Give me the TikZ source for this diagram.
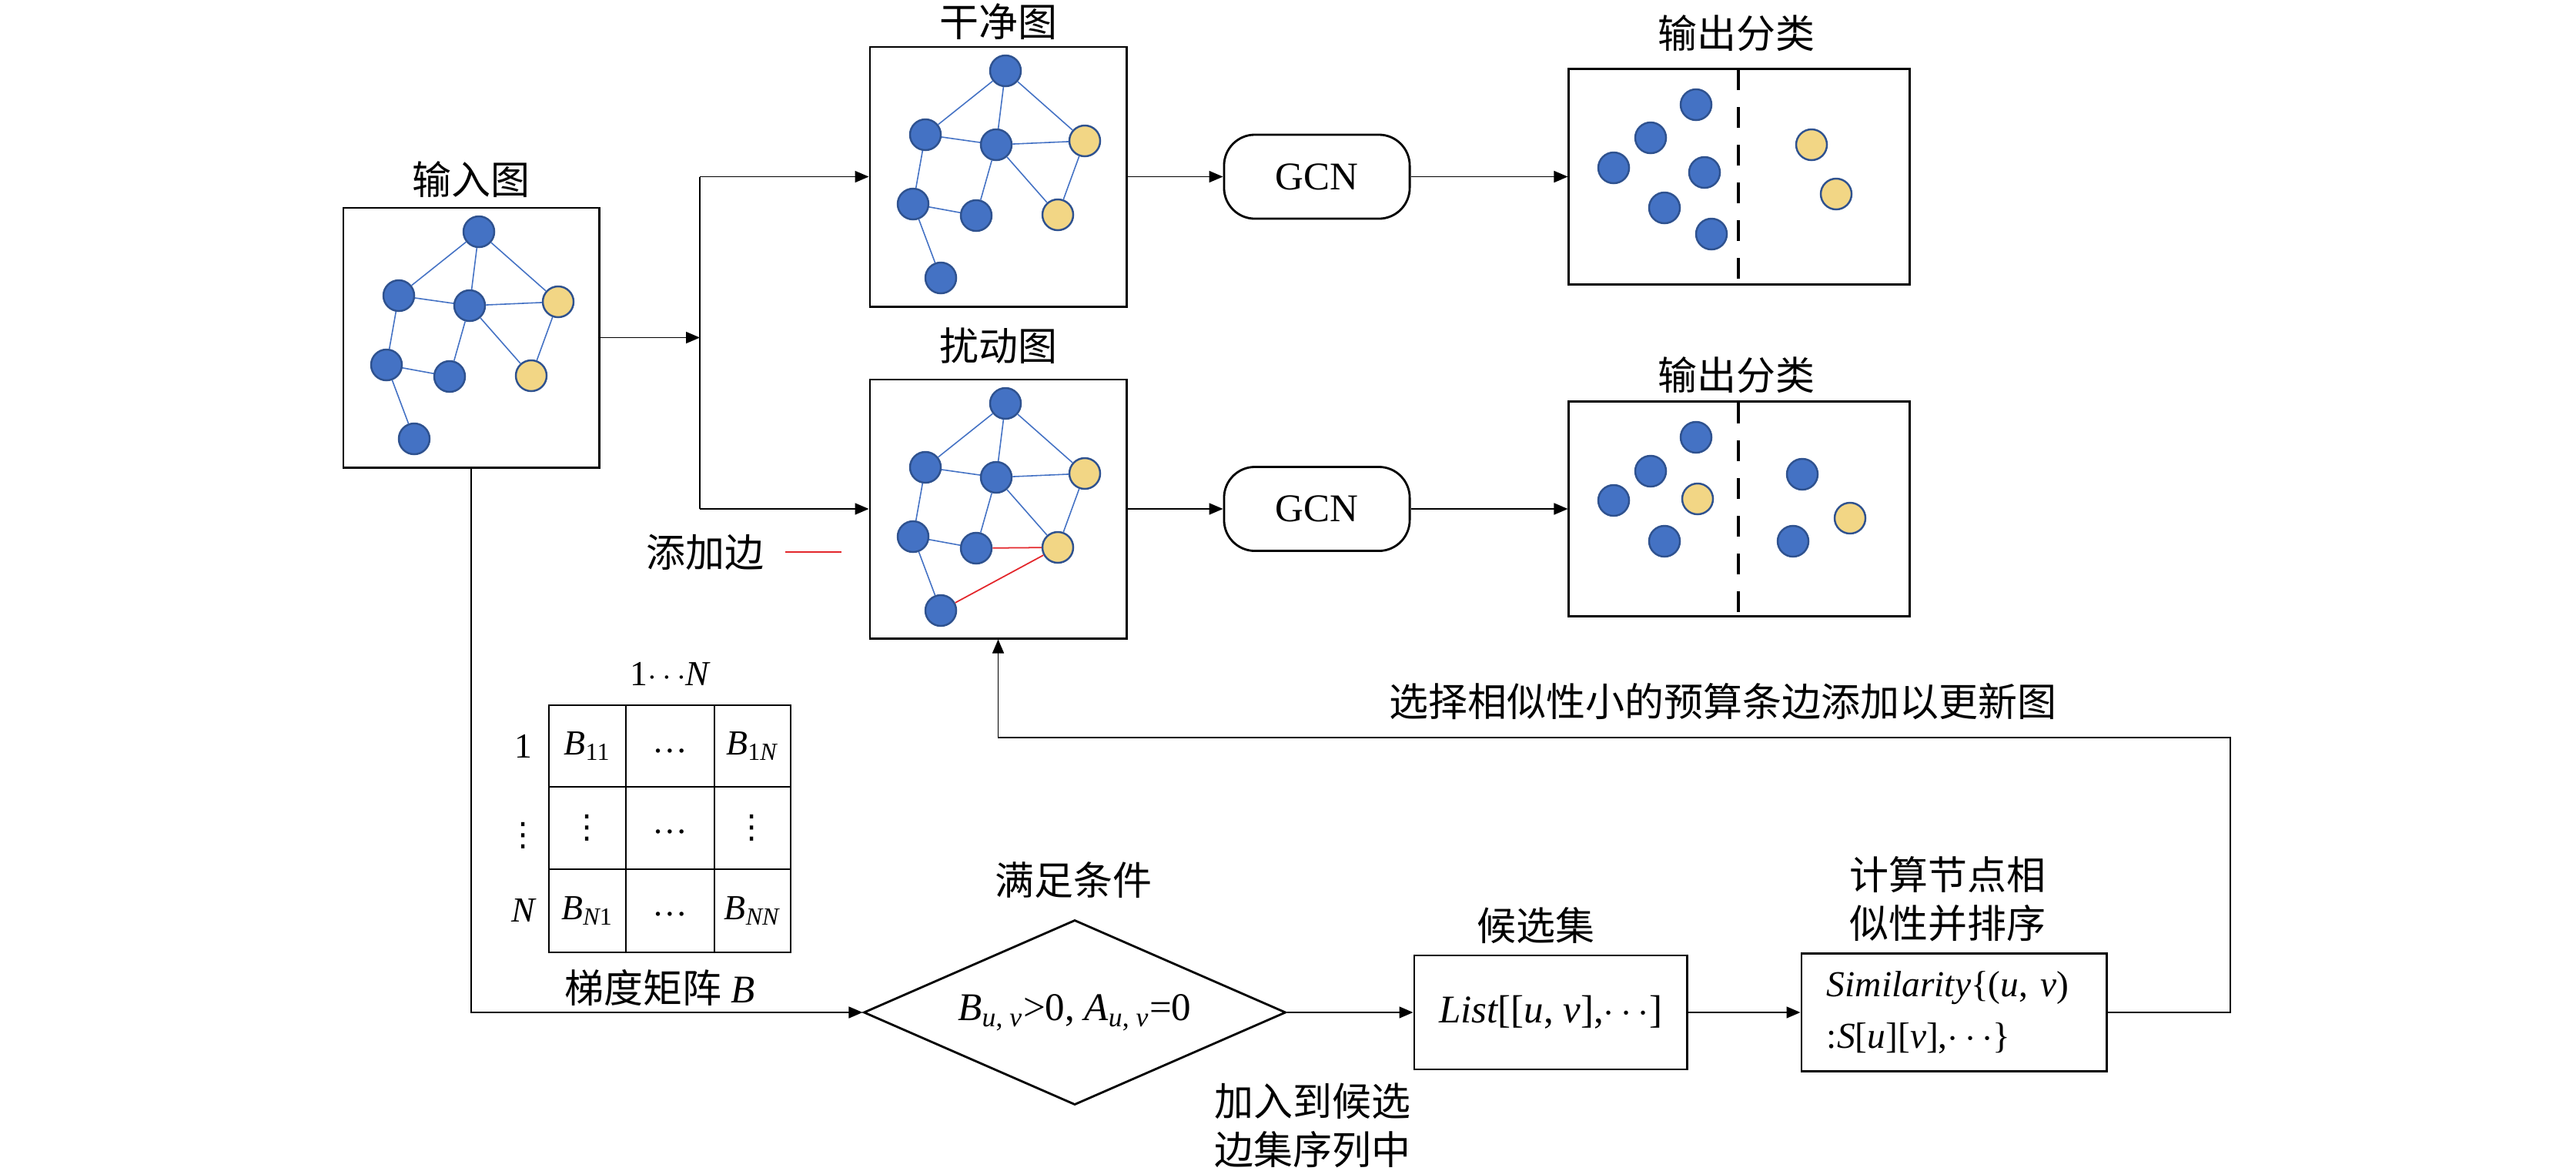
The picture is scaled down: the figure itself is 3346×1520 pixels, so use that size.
\documentclass[tikz,border=0pt]{standalone}
\usepackage{fontspec}
\setmainfont{Liberation Serif}
\newfontfamily\cjk{Noto Sans CJK SC}
\newfontfamily\dotsfont{DejaVu Sans}
\usepackage{tikz}
\usetikzlibrary{arrows.meta, shapes.geometric}

\definecolor{nodeblue}{HTML}{4472C4}
\definecolor{nodeline}{HTML}{2F528F}
\definecolor{nodeyellow}{HTML}{F2D685}
\definecolor{addred}{HTML}{E3262B}

\newcommand{\ivar}[1]{{\rmfamily\itshape #1}}

\begin{document}
\begin{tikzpicture}[x=0.01cm, y=-0.01cm, >={Triangle[length=0.18cm,width=0.15cm]},
  gbox/.style={draw, line width=0.8pt, inner sep=0pt},
  conn/.style={line width=0.45pt},
  bnode/.style={circle, draw=nodeline, fill=nodeblue, line width=0.7pt,
    minimum size=0.4cm, inner sep=0pt},
  ynode/.style={bnode, fill=nodeyellow},
  gedge/.style={nodeblue, line width=0.45pt},
  addedge/.style={addred, line width=0.5pt},
  cjklbl/.style={font=\cjk\fontsize{14.5}{18}\selectfont, align=center, inner sep=0pt},
  txt/.style={font=\fontsize{14.5}{19}\selectfont},
  matentry/.style={font=\fontsize{13}{16}\selectfont, inner sep=0pt},
  vdot/.style={font=\dotsfont\fontsize{12}{14}\selectfont, inner sep=0pt}]
  \useasboundingbox (0,0) rectangle (3346,1520);

  % Graph boxes
  \node[gbox, minimum width=3.32cm, minimum height=3.37cm] (in) at (612, 438.5) {};
  \node[gbox, minimum width=3.33cm, minimum height=3.37cm] (clean) at (1296.5, 229.5) {};
  \node[gbox, minimum width=3.33cm, minimum height=3.36cm] (pert) at (1296.5, 661) {};
  \node[cjklbl] (inlbl) at (612, 233) {输入图};
  \node[cjklbl] (cleanlbl) at (1296.5, 28) {干净图};
  \node[cjklbl] (pertlbl) at (1296.5, 449) {扰动图};

  % Same graph in all three boxes
  \foreach \g/\ox/\oy in {in/446/270, clean/1130/61, pert/1130/493} {
    \foreach \i/\dx/\dy/\sty in {1/176/31/bnode, 2/72/114/bnode, 3/164/127/bnode,
        4/279/122/ynode, 5/56/204/bnode, 6/138/219/bnode, 7/244/218/ynode, 8/92/300/bnode}
      \node[\sty] (\g-\i) at (\ox+\dx, \oy+\dy) {};
    \foreach \a/\b in {1/2, 1/3, 1/4, 2/3, 3/4, 2/5, 3/6, 3/7, 4/7, 5/6, 5/8}
      \draw[gedge] (\g-\a) -- (\g-\b);
  }

  % Added edges
  \draw[addedge] (pert-6) -- (pert-7);
  \draw[addedge] (pert-8) -- (pert-7);
  \node[cjklbl] (addlbl) at (916, 717) {添加边};
  \draw[addedge] ([xshift=0.27cm]addlbl.east) -- ++(73,0);

  % GCN and outputs
  \node[draw, line width=0.8pt, rounded corners=0.4cm, minimum width=2.41cm,
    minimum height=1.09cm, txt] (gcna) at (1710.5, 229.5) {GCN};
  \node[draw, line width=0.8pt, rounded corners=0.4cm, minimum width=2.41cm,
    minimum height=1.09cm, txt] (gcnb) at (1710.5, 661) {GCN};
  \node[gbox, minimum width=4.42cm, minimum height=2.80cm] (outa) at (2259, 229.5) {};
  \node[gbox, minimum width=4.42cm, minimum height=2.79cm] (outb) at (2259, 661) {};
  \node[cjklbl] (outalbl) at (2255, 43) {输出分类};
  \node[cjklbl] (outblbl) at (2255, 487) {输出分类};
  \draw[line width=0.9pt, dash pattern=on 0.27cm off 0.22cm] (2258,90) -- (2258,367);
  \draw[line width=0.9pt, dash pattern=on 0.27cm off 0.22cm] (2258,523) -- (2258,800);

  \foreach \i/\dx/\dy/\sty in {1/165/47/bnode, 2/106/90/bnode, 3/58/129/bnode, 4/176/135/bnode,
      5/124/181/bnode, 6/185/215/bnode, 7/315/99/ynode, 8/347/163/ynode}
    \node[\sty] (oa-\i) at (2038+\dx, 89+\dy) {};
  \foreach \i/\dx/\dy/\sty in {1/165/46/bnode, 2/106/90/bnode, 3/58/128/bnode, 4/167/126/ynode,
      5/124/181/bnode, 6/303/94/bnode, 7/291/181/bnode, 8/365/151/ynode}
    \node[\sty] (ob-\i) at (2038+\dx, 522+\dy) {};

  % Upper connectors
  \coordinate (split) at (909, 438.5);
  \draw[conn, ->] (in.east) -- (split);
  \draw[conn] (split |- clean.west) -- (split |- pert.west);
  \draw[conn, ->] (split |- clean.west) -- (clean.west);
  \draw[conn, ->] (split |- pert.west) -- (pert.west);
  \draw[conn, ->] (clean.east) -- (gcna.west);
  \draw[conn, ->] (gcna.east) -- (outa.west);
  \draw[conn, ->] (pert.east) -- (gcnb.west);
  \draw[conn, ->] (gcnb.east) -- (outb.west);

  % Gradient matrix
  \draw[line width=0.8pt] (713,916) rectangle (1027,1237);
  \foreach \xx in {813, 928}
    \draw[line width=0.8pt] (\xx,916) -- (\xx,1237);
  \foreach \yy in {1022, 1129}
    \draw[line width=0.8pt] (713,\yy) -- (1027,\yy);
  \node[matentry] (m11) at (763, 969) {\ivar{B}\textsubscript{11}};
  \node[matentry] (m12) at (870, 975) {…};
  \node[matentry] (m13) at (977, 969) {\ivar{B}\textsubscript{1\ivar{N}}};
  \node[vdot] (m21) at (763, 1075) {⋮};
  \node[matentry] (m22) at (870, 1080) {…};
  \node[vdot] (m23) at (977, 1075) {⋮};
  \node[matentry] (m31) at (763, 1183) {\ivar{B}\textsubscript{\ivar{N}1}};
  \node[matentry] (m32) at (870, 1187) {…};
  \node[matentry] (m33) at (977, 1183) {\ivar{B}\textsubscript{\ivar{NN}}};
  \node[matentry] (r1) at (680, 969) {1};
  \node[vdot] (r2) at (680, 1085) {⋮};
  \node[matentry] (r3) at (680, 1183) {\ivar{N}};
  \node[matentry] (colhead) at (870, 875) {1$\cdots$\ivar{N}};
  \node[cjklbl] (matlbl) at (857, 1283) {梯度矩阵 \ivar{B}};

  % Lower flow
  \node[draw, diamond, aspect=2.28, line width=0.8pt, inner sep=0pt, minimum width=5.48cm,
    minimum height=2.40cm, txt] (cond) at (1396, 1315)
    {\ivar{B}\textsubscript{\ivar{u}, \ivar{v}}>0, \ivar{A}\textsubscript{\ivar{u}, \ivar{v}}=0};
  \node[cjklbl] (condlbl) at (1394, 1143) {满足条件};
  \node[cjklbl] (joinlbl) at (1705, 1461.5) {加入到候选\\边集序列中};

  \node[gbox, minimum width=3.54cm, minimum height=1.48cm, txt] (cand) at (2014, 1315)
    {\ivar{List}[[\ivar{u}, \ivar{v}],$\cdots$]};
  \node[cjklbl] (candlbl) at (1995, 1202) {候选集};

  \node[gbox, text width=3.3cm, inner xsep=0.33cm, minimum height=1.53cm, align=left,
    font=\fontsize{13.5}{19}\selectfont] (sim) at (2538, 1315)
    {\ivar{Similarity}\{(\ivar{u}, \ivar{v})\\:\ivar{S}[\ivar{u}][\ivar{v}],$\cdots$\}};
  \node[cjklbl] (simlbl) at (2530, 1167.5) {计算节点相\\似性并排序};

  \draw[conn, ->] (in.south) |- (cond.west);
  \draw[conn, ->] (cond.east) -- (cand.west);
  \draw[conn, ->] (cand.east) -- (sim.west);

  % Feedback to the perturbed graph
  \coordinate (fbturn) at (2897, 958);
  \draw[conn, ->] (sim.east) -| (fbturn) -| (pert.south);
  \node[cjklbl] (fblbl) at (2238, 911) {选择相似性小的预算条边添加以更新图};
\end{tikzpicture}
\end{document}
